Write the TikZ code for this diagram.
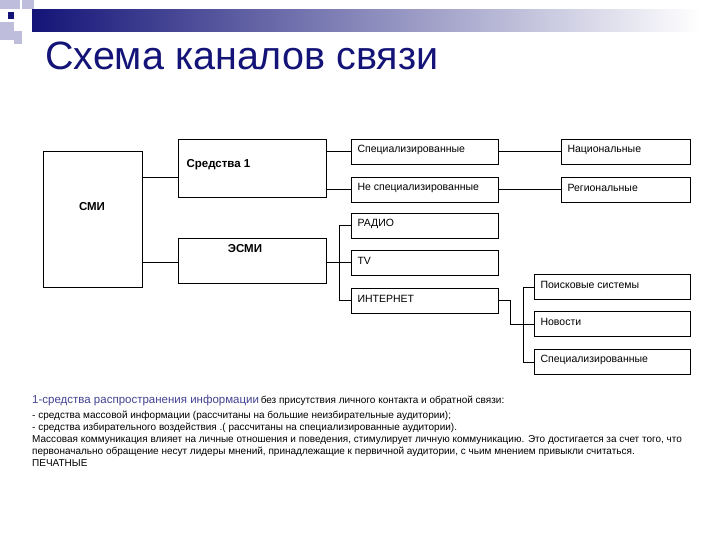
\documentclass[tikz,border=0pt]{standalone}
\usepackage{fontspec}
\setmainfont{Liberation Sans}
\definecolor{navy}{RGB}{20,20,120}
\definecolor{lav}{RGB}{190,190,220}
\begin{document}
\begin{tikzpicture}[x=1pt,y=-1pt,
  bx/.style={draw,line width=0.8pt,inner sep=0pt},
  ln/.style={line width=0.8pt},
  lbl/.style={font=\fontsize{10.5}{12}\selectfont,anchor=west},
  bl/.style={font=\bfseries\fontsize{11.5}{13}\selectfont}]
\useasboundingbox (0,0) rectangle (720,540);
\fill[white] (0,0) rectangle (720,540);
% header decoration
\shade[left color=navy,right color=white] (32,10) rectangle (700,32);
\fill[lav] (0,0) rectangle (20,9);
\fill[lav] (22,0) rectangle (34,9);
\fill[lav] (0,22) rectangle (14,40);
\fill[lav] (14,31) rectangle (22,44);
\fill[navy] (8,12) rectangle (14,19);
\node[anchor=base west,text=navy,font=\fontsize{39.5}{42}\selectfont,inner sep=0pt] (title) at (45,70) {Схема каналов связи};
% boxes
\draw[bx] (43,151) rectangle (142,287); \node[bl] (smi) at (92,207) {СМИ};
\coordinate (smiR1) at (142,177); \coordinate (smiR2) at (142,262);
\draw[bx] (178,139) rectangle (326,197); \node[bl,anchor=west] (sr) at (183,165) {Средства 1};
\draw[bx] (178,238) rectangle (326,283); \node[bl] (esmi) at (245,249) {ЭСМИ};
\foreach \n/\y/\t in {sp/139/Специализированные,nsp/177/Не специализированные,rad/213/РАДИО,tv/250/TV,int/288/ИНТЕРНЕТ}{
  \draw[bx] (351,\y) rectangle (498,\y+25);
  \node[lbl] (\n) at (354,\y+11) {\t};}
\foreach \n/\y/\t in {nat/139/Национальные,reg/177/Региональные}{
  \draw[bx] (561,\y) rectangle (690,\y+25);
  \node[lbl] (\n) at (564,\y+11) {\t};}
\foreach \n/\y/\t in {poi/274/Поисковые системы,nov/311/Новости,sp2/349/Специализированные}{
  \draw[bx] (534,\y) rectangle (690,\y+25);
  \node[lbl] (\n) at (537,\y+11) {\t};}
% connectors
\draw[ln] (smiR1) -- (178,177);
\draw[ln] (smiR2) -- (178,262);
\draw[ln] (326,151) -- (351,151);
\draw[ln] (326,189) -- (351,189);
\draw[ln] (498,151) -- (561,151);
\draw[ln] (498,189) -- (561,189);
\draw[ln] (326,262) -- (351,262);
\draw[ln] (351,225) -- (339,225) -- (339,300) -- (351,300);
\draw[ln] (498,300) -- (510,300) -- (510,324) -- (534,324);
\draw[ln] (534,287) -- (523,287) -- (523,362) -- (534,362);
% text
\node[anchor=base west,inner sep=0pt,font=\fontsize{10}{10}\selectfont] (t1) at (32,403) {{\color{navy!80}\fontsize{11.5}{12}\selectfont 1-средства распространения информации}\,без присутствия личного контакта и обратной связи:};
\foreach \y/\t in {418/- средства массовой информации (рассчитаны на большие неизбирательные аудитории);,
  430/- средства избирательного воздействия .( рассчитаны на специализированные аудитории).,
  442/Массовая коммуникация влияет на личные отношения и поведения{,} стимулирует личную коммуникацию. Это достигается за счет того{,} что,
  454/первоначально обращение несут лидеры мнений{,} принадлежащие к первичной аудитории{,} с чьим мнением привыкли считаться.,
  466/ПЕЧАТНЫЕ}
  \node[anchor=base west,inner sep=0pt,font=\fontsize{10}{10}\selectfont] at (32,\y) {\t};
\end{tikzpicture}
\end{document}
